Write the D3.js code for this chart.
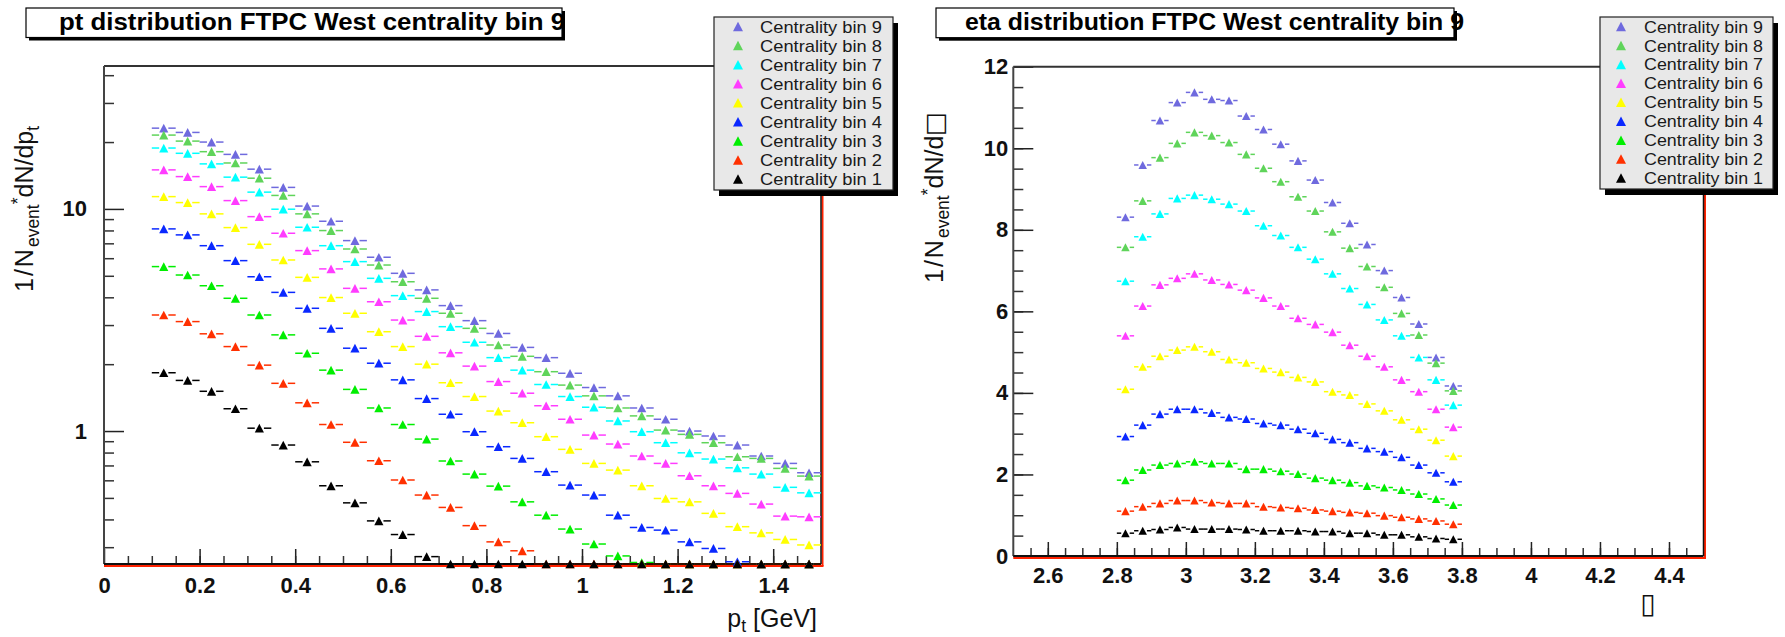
<!DOCTYPE html>
<html><head><meta charset="utf-8">
<script src="https://cdn.jsdelivr.net/npm/d3@7"></script>
<style>body{margin:0;background:#fff} svg{display:block}</style>
</head><body>
<svg id="c" width="1785" height="637"></svg>
<script>
// ---------------- data ----------------
const seriesNames = ["Centrality bin 9","Centrality bin 8","Centrality bin 7","Centrality bin 6","Centrality bin 5","Centrality bin 4","Centrality bin 3","Centrality bin 2","Centrality bin 1"];
const seriesColors = ["#6f6ade","#5fd45a","#00ffff","#ff3cff","#ffff00","#0a28ff","#00ee00","#ff3000","#000000"];

const binHalfWidth = 0.025;
const ptCenters = [0.125,0.175,0.225,0.275,0.325,0.375,0.425,0.475,0.525,0.575,0.625,0.675,0.725,0.775,0.825,0.875,0.925,0.975,1.025,1.075,1.125,1.175,1.225,1.275,1.325,1.375,1.425,1.475];
const etaCenters = [2.825,2.875,2.925,2.975,3.025,3.075,3.125,3.175,3.225,3.275,3.325,3.375,3.425,3.475,3.525,3.575,3.625,3.675,3.725,3.775];

const ptBin9 = [23.1,22.1,20.0,17.6,15.1,12.5,10.3,8.8,7.2,6.06,5.13,4.32,3.67,3.14,2.75,2.38,2.14,1.82,1.57,1.44,1.27,1.13,1.0,0.95,0.865,0.772,0.715,0.649];
const ptBin8 = [21.5,20.2,18.1,16.1,13.75,11.5,9.5,7.99,6.6,5.59,4.70,3.96,3.39,2.90,2.44,2.17,1.85,1.61,1.44,1.27,1.17,1.01,0.966,0.886,0.766,0.753,0.679,0.627];
const ptBin7 = [18.8,17.8,15.95,13.9,11.9,9.97,8.27,6.83,5.79,4.87,4.07,3.45,2.95,2.51,2.14,1.88,1.62,1.43,1.28,1.11,0.993,0.886,0.798,0.748,0.683,0.640,0.558,0.527];
const ptBin6 = [14.99,13.98,12.6,10.9,9.23,7.77,6.49,5.37,4.39,3.82,3.16,2.67,2.25,1.96,1.67,1.48,1.30,1.13,0.959,0.874,0.772,0.715,0.629,0.567,0.524,0.469,0.414,0.411];
const ptBin5 = [11.36,10.68,9.5,8.24,6.93,5.89,4.92,3.99,3.39,2.80,2.40,2.00,1.65,1.43,1.23,1.09,0.943,0.827,0.715,0.667,0.567,0.497,0.480,0.426,0.371,0.348,0.325,0.307];
const ptBin4 = [8.13,7.64,6.83,5.85,4.95,4.21,3.57,2.90,2.36,2.02,1.70,1.40,1.19,0.993,0.850,0.753,0.656,0.571,0.515,0.418,0.368,0.358,0.317,0.296,0.258,0.23,0.21,0.19];
const ptBin3 = [5.50,5.04,4.51,3.96,3.33,2.71,2.24,1.88,1.54,1.27,1.07,0.920,0.733,0.640,0.565,0.480,0.418,0.362,0.310,0.274,0.256,0.23,0.21,0.19,0.17,0.16,0.145,0.13];
const ptBin2 = [3.33,3.11,2.74,2.40,1.98,1.64,1.34,1.07,0.890,0.735,0.602,0.515,0.453,0.375,0.317,0.289,0.245,0.215,0.19,0.17,0.15,0.13,0.115,0.10,0.09,0.08,0.07,0.06];
const ptBin1 = [1.83,1.69,1.51,1.26,1.03,0.865,0.727,0.567,0.475,0.394,0.342,0.272,0.23,0.20,0.175,0.155,0.135,0.12,0.105,0.092,0.081,0.071,0.063,0.055,0.048,0.042,0.037,0.033];

const etaBin9 = [8.31,9.59,10.68,11.12,11.37,11.20,11.17,10.79,10.46,10.10,9.69,9.22,8.67,8.16,7.64,7.00,6.34,5.69,4.87,4.17];
const etaBin8 = [7.57,8.71,9.77,10.12,10.39,10.31,10.14,9.85,9.51,9.18,8.81,8.46,7.95,7.55,7.10,6.59,5.95,5.42,4.73,4.05];
const etaBin7 = [6.74,7.83,8.39,8.77,8.85,8.75,8.63,8.46,8.10,7.86,7.57,7.28,6.92,6.56,6.17,5.79,5.40,4.87,4.32,3.70];
const etaBin6 = [5.40,6.13,6.65,6.81,6.92,6.77,6.66,6.52,6.33,6.13,5.83,5.68,5.49,5.17,4.90,4.64,4.32,4.03,3.60,3.16];
const etaBin5 = [4.09,4.64,4.90,5.05,5.13,5.01,4.82,4.74,4.60,4.51,4.38,4.27,4.03,3.95,3.73,3.56,3.34,3.11,2.84,2.45];
const etaBin4 = [2.93,3.21,3.48,3.60,3.60,3.51,3.40,3.36,3.25,3.21,3.11,3.01,2.86,2.78,2.64,2.56,2.42,2.23,2.04,1.82];
const etaBin3 = [1.86,2.11,2.23,2.27,2.31,2.27,2.27,2.13,2.13,2.08,2.01,1.91,1.86,1.80,1.72,1.68,1.62,1.52,1.40,1.25];
const etaBin2 = [1.10,1.21,1.29,1.36,1.36,1.31,1.29,1.29,1.21,1.19,1.17,1.13,1.10,1.07,1.05,0.99,0.95,0.91,0.86,0.78];
const etaBin1 = [0.56,0.62,0.65,0.70,0.66,0.66,0.66,0.65,0.62,0.62,0.62,0.60,0.60,0.56,0.56,0.52,0.52,0.47,0.43,0.41];

const ptXTicks = [0,0.2,0.4,0.6,0.8,1,1.2,1.4];
const ptXTickLabels = ["0","0.2","0.4","0.6","0.8","1","1.2","1.4"];
const ptYTicks = [1,10];
const ptYTickLabels = ["1","10"];
const ptYMinorTicks = [0.3,0.4,0.5,0.6,0.7,0.8,0.9,2,3,4,5,6,7,8,9,20,30,40];
const etaXTicks = [2.6,2.8,3,3.2,3.4,3.6,3.8,4,4.2,4.4];
const etaXTickLabels = ["2.6","2.8","3","3.2","3.4","3.6","3.8","4","4.2","4.4"];
const etaYTicks = [0,2,4,6,8,10,12];
const etaYTickLabels = ["0","2","4","6","8","10","12"];

const ptSeries = [ptBin9,ptBin8,ptBin7,ptBin6,ptBin5,ptBin4,ptBin3,ptBin2,ptBin1];
const etaSeries = [etaBin9,etaBin8,etaBin7,etaBin6,etaBin5,etaBin4,etaBin3,etaBin2,etaBin1];

// ---------------- drawing ----------------
const svg = d3.select("#c");
const FONT = "'Liberation Sans', Arial, Helvetica, sans-serif";

const triUp = { draw(ctx, size){ const w = Math.sqrt(size); const h = w*0.95;
  ctx.moveTo(0,-h/2); ctx.lineTo(w/2,h/2); ctx.lineTo(-w/2,h/2); ctx.closePath(); } };

function panel(cfg){
  const g = svg.append("g");
  const x = cfg.x, y = cfg.y;
  const [x0,x1] = x.range(), [yb,yt] = y.range();

  const ax = g.append("g").attr("transform",`translate(0,${yb})`).attr("color","#333");
  ax.call(d3.axisBottom(x).tickValues(cfg.xMinor).tickSize(-8).tickFormat(""))
    .call(s=>s.select(".domain").remove());
  const axM = g.append("g").attr("transform",`translate(0,${yb})`).attr("color","#222");
  axM.call(d3.axisBottom(x).tickValues(cfg.xTicks).tickSize(-cfg.xMajorLen).tickPadding(cfg.xPad)
      .tickFormat((d,i)=>cfg.xLabels[i]))
    .call(s=>s.select(".domain").remove());
  axM.selectAll("text").attr("font-family",FONT).attr("font-weight","bold").attr("font-size",cfg.tickFont).attr("fill","#111");

  const ay = g.append("g").attr("transform",`translate(${x0},0)`).attr("color","#333");
  ay.call(d3.axisLeft(y).tickValues(cfg.yMinor).tickSize(-10).tickFormat(""))
    .call(s=>s.select(".domain").remove());
  const ayM = g.append("g").attr("transform",`translate(${x0},0)`).attr("color","#222");
  ayM.call(d3.axisLeft(y).tickValues(cfg.yTicks).tickSize(-20).tickPadding(cfg.yPad)
      .tickFormat((d,i)=>cfg.yLabels[i]))
    .call(s=>s.select(".domain").remove());
  ayM.selectAll("text").attr("font-family",FONT).attr("font-weight","bold").attr("font-size",cfg.tickFont).attr("fill","#111");
  g.selectAll(".tick line").attr("stroke-width",1.5);

  // frame
  g.append("line").attr("x1",x0).attr("x2",cfg.legendX).attr("y1",yt).attr("y2",yt).attr("stroke","#333").attr("stroke-width",2);
  g.append("line").attr("x1",x0).attr("x2",x0).attr("y1",yt).attr("y2",yb).attr("stroke","#444").attr("stroke-width",2);
  g.append("line").attr("x1",x1+1.5).attr("x2",x1+1.5).attr("y1",cfg.legendBottom).attr("y2",yb+2).attr("stroke","#ff2200").attr("stroke-width",2);
  g.append("line").attr("x1",x1).attr("x2",x1).attr("y1",cfg.legendBottom).attr("y2",yb).attr("stroke","#111").attr("stroke-width",1.5);
  g.append("line").attr("x1",x0).attr("x2",x1+2.5).attr("y1",yb+2).attr("y2",yb+2).attr("stroke","#ff2200").attr("stroke-width",2);
  g.append("line").attr("x1",x0).attr("x2",x1).attr("y1",yb).attr("y2",yb).attr("stroke","#111").attr("stroke-width",2);

  // data
  const sym = d3.symbol().type(triUp).size(cfg.markSize);
  const gap = Math.sqrt(cfg.markSize)/2;
  cfg.series.forEach((vals,si)=>{
    const col = seriesColors[si];
    const pts = cfg.centers.map((c,i)=>({c, v: vals[i]}));
    const sg = g.append("g");
    sg.selectAll("line.l").data(pts).join("line")
      .attr("x1",d=>x(d.c-binHalfWidth)).attr("x2",d=>x(d.c)-gap)
      .attr("y1",d=>y(d.v)).attr("y2",d=>y(d.v))
      .attr("stroke",col).attr("stroke-width",1.5);
    sg.selectAll("line.r").data(pts).join("line")
      .attr("x1",d=>x(d.c)+gap).attr("x2",d=>x(d.c+binHalfWidth))
      .attr("y1",d=>y(d.v)).attr("y2",d=>y(d.v))
      .attr("stroke",col).attr("stroke-width",1.5);
    sg.selectAll("path").data(pts).join("path")
      .attr("d",sym).attr("transform",d=>`translate(${x(d.c)},${y(d.v)})`)
      .attr("fill",col);
  });

  // legend
  const L = cfg.legend;
  g.append("rect").attr("x",L.x+5).attr("y",L.y+6).attr("width",L.w).attr("height",L.h).attr("fill","#000");
  g.append("rect").attr("x",L.x).attr("y",L.y).attr("width",L.w).attr("height",L.h).attr("fill","#e8e8e8").attr("stroke","#222").attr("stroke-width",1.2);
  const ly = d3.scalePoint().domain(seriesNames).range([L.y+9.5, L.y+L.h-11]);
  const lsym = d3.symbol().type(triUp).size(100);
  seriesNames.forEach((n,i)=>{
    g.append("path").attr("d",lsym).attr("transform",`translate(${L.mx},${ly(n)})`).attr("fill",seriesColors[i]);
    g.append("text").attr("x",L.tx).attr("y",ly(n)).attr("dy","0.36em").attr("font-family",FONT)
      .attr("font-size",17).attr("fill","#1a1a1a").attr("textLength",L.tw).attr("lengthAdjust","spacingAndGlyphs").text(n);
  });

  // title box
  const T = cfg.title;
  g.append("rect").attr("x",T.x+3).attr("y",T.y+3).attr("width",T.w).attr("height",T.h).attr("fill","#000");
  g.append("rect").attr("x",T.x).attr("y",T.y).attr("width",T.w).attr("height",T.h).attr("fill","#fff").attr("stroke","#000").attr("stroke-width",1.2);
  g.append("text").attr("x",T.tx).attr("y",T.by).attr("font-family",FONT).attr("font-weight","bold")
    .attr("font-size",23).attr("fill","#000").attr("textLength",T.tw).attr("lengthAdjust","spacingAndGlyphs").text(T.text);
  return g;
}

const xL = d3.scaleLinear().domain([0,1.5]).range([104,821]);
const yL = d3.scaleLog().domain([0.252,44]).range([564,66]).clamp(true);
panel({x:xL, y:yL, series:ptSeries, centers:ptCenters,
  xTicks:ptXTicks, xLabels:ptXTickLabels, xMinor:d3.range(0.05,1.5,0.05), xMajorLen:15, xPad:13,
  yTicks:ptYTicks, yLabels:ptYTickLabels, yMinor:ptYMinorTicks, yPad:17, tickFont:22,
  markSize:84, legendX:714, legendBottom:190,
  legend:{x:714,y:17,w:179,h:173,mx:738,tx:760,tw:122},
  title:{x:26,y:8,w:536,h:29.5,tx:59,by:30,tw:506,text:"pt distribution FTPC West centrality bin 9"}});

const xR = d3.scaleLinear().domain([2.5,4.5]).range([1013.3,1703.5]);
const yR = d3.scaleLinear().domain([0,12]).range([556,66.7]);
panel({x:xR, y:yR, series:etaSeries, centers:etaCenters,
  xTicks:etaXTicks, xLabels:etaXTickLabels, xMinor:d3.range(2.55,4.5,0.05), xMajorLen:14, xPad:11,
  yTicks:etaYTicks, yLabels:etaYTickLabels, yMinor:d3.range(0.5,12,0.5), yPad:5, tickFont:22,
  markSize:72, legendX:1600, legendBottom:189,
  legend:{x:1600,y:17,w:173,h:172,mx:1621,tx:1644,tw:119},
  title:{x:936,y:8,w:518,h:29.7,tx:965,by:30,tw:499,text:"eta distribution FTPC West centrality bin 9"}});

// axis titles
function yTitle(tx,ty,last,lastSub){
  const t = svg.append("text").attr("transform",`translate(${tx},${ty}) rotate(-90)`)
    .attr("font-family",FONT).attr("font-size",25).attr("fill","#111");
  t.append("tspan").attr("letter-spacing",2).text("1/N");
  t.append("tspan").attr("font-size",17.5).attr("dy",6).text("event");
  t.append("tspan").attr("font-size",17.5).attr("dy",-15).text("*");
  t.append("tspan").attr("dy",9).text(last);
  if(lastSub) t.append("tspan").attr("font-size",17.5).attr("dy",6).text(lastSub);
  return t;
}
yTitle(33,292,"dN/dp","t");
const tr = yTitle(943,283,"dN/d",null);
tr.append("tspan").attr("font-family","'DejaVu Sans'").attr("font-size",25).text("\u25A1");

const xt = svg.append("text").attr("x",817).attr("y",627).attr("text-anchor","end")
  .attr("font-family",FONT).attr("font-size",25).attr("fill","#111");
xt.append("tspan").text("p");
xt.append("tspan").attr("font-size",17.5).attr("dy",5).text("t");
xt.append("tspan").attr("dy",-5).text(" [GeV]");

svg.append("text").attr("x",1648).attr("y",613).attr("text-anchor","middle")
  .attr("font-family","'DejaVu Sans'").attr("font-size",28).attr("fill","#111").text("\u25AF");
</script>
</body></html>
